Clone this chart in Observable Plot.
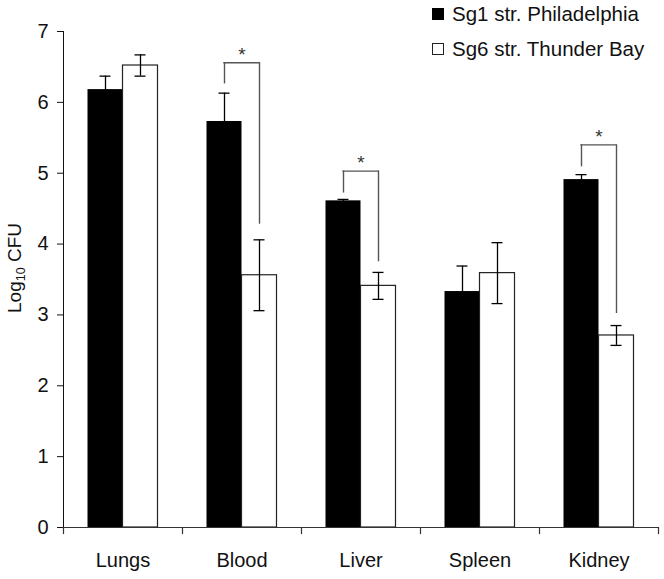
<!DOCTYPE html>
<html>
<head>
<meta charset="utf-8">
<script src="https://cdn.jsdelivr.net/npm/d3@7"></script>
<script src="https://cdn.jsdelivr.net/npm/@observablehq/plot@0.6"></script>
<style>
  html, body { margin: 0; padding: 0; background: #fff; }
  #wrap { position: relative; width: 664px; height: 579px; font-family: "Liberation Sans", Arial, sans-serif; }
  .leg { position: absolute; left: 432px; font-size: 20.5px; color: #111; white-space: nowrap; display: flex; align-items: center; height: 26px; }
  .sw { width: 12px; height: 12px; box-sizing: border-box; margin-right: 8px; }
</style>
</head>
<body>
<div id="wrap"></div>
<script>
// ---- data ----
const categories = ["Lungs", "Blood", "Liver", "Spleen", "Kidney"];
const seriesNames = ["Sg1 str. Philadelphia", "Sg6 str. Thunder Bay"];
const sg1Mean = [6.18, 5.73, 4.61, 3.33, 4.91];
const sg1Err  = [0.19, 0.40, 0.02, 0.36, 0.07];
const sg6Mean = [6.52, 3.56, 3.41, 3.59, 2.71];
const sg6Err  = [0.15, 0.50, 0.19, 0.43, 0.14];
const yTicks = [0, 1, 2, 3, 4, 5, 6, 7];
// significance brackets
const sigCategories = ["Blood", "Liver", "Kidney"];
const bracketTop = [6.56, 5.03, 5.40];
const bracketLeftEnd = [6.26, 4.72, 5.09];
const bracketRightEnd = [4.28, 3.75, 3.02];
const sigLabel = ["*", "*", "*"];

// ---- layout ----
const W = 664, H = 579;
const mL = 63, mR = 6, mT = 31, mB = 52;
const bandW = (W - mL - mR) / categories.length;
const barW = 35;
const capHalf = 5.5;

const sg1 = categories.map((c, i) => ({cat: c, mean: sg1Mean[i], err: sg1Err[i]}));
const sg6 = categories.map((c, i) => ({cat: c, mean: sg6Mean[i], err: sg6Err[i]}));
const sig = sigCategories.map((c, i) => ({cat: c, top: bracketTop[i], l: bracketLeftEnd[i], r: bracketRightEnd[i], label: sigLabel[i]}));

const axisColor = "#333";
const brColor = "#555";

const plot = Plot.plot({
  width: W, height: H,
  marginLeft: mL, marginRight: mR, marginTop: mT, marginBottom: mB,
  style: {fontFamily: "Liberation Sans, Arial, sans-serif", fontSize: "20px", color: "#111", background: "#fff"},
  x: {domain: categories, padding: 0, tickSize: 0, tickPadding: 25, label: null, line: false},
  y: {domain: [0, 7], ticks: yTicks, tickSize: 6, tickPadding: 9, label: null, line: true, tickFormat: d3.format("d")},
  marks: [
    // bars
    Plot.barY(sg1, {x: "cat", y: "mean", fill: "#000", insetLeft: bandW / 2 - barW, insetRight: bandW / 2}),
    Plot.barY(sg6, {x: "cat", y: "mean", fill: "#fff", stroke: "#222", strokeWidth: 1.2, insetLeft: bandW / 2, insetRight: bandW / 2 - barW}),
    // error bars
    Plot.ruleX(sg1, {x: "cat", dx: -barW / 2, y1: d => d.mean - d.err, y2: d => d.mean + d.err, stroke: "#000", strokeWidth: 1.3}),
    Plot.tickY(sg1, {x: "cat", y: d => d.mean + d.err, stroke: "#000", strokeWidth: 1.3, insetLeft: bandW / 2 - barW / 2 - capHalf, insetRight: bandW / 2 + barW / 2 - capHalf}),
    Plot.ruleX(sg6, {x: "cat", dx: barW / 2, y1: d => d.mean - d.err, y2: d => d.mean + d.err, stroke: "#000", strokeWidth: 1.3}),
    Plot.tickY(sg6, {x: "cat", y: d => d.mean + d.err, stroke: "#000", strokeWidth: 1.3, insetLeft: bandW / 2 + barW / 2 - capHalf, insetRight: bandW / 2 - barW / 2 - capHalf}),
    Plot.tickY(sg6, {x: "cat", y: d => d.mean - d.err, stroke: "#000", strokeWidth: 1.3, insetLeft: bandW / 2 + barW / 2 - capHalf, insetRight: bandW / 2 - barW / 2 - capHalf}),
    // significance brackets
    Plot.ruleX(sig, {x: "cat", dx: -barW / 2, y1: "l", y2: "top", stroke: brColor, strokeWidth: 1.4}),
    Plot.ruleX(sig, {x: "cat", dx: barW / 2, y1: "r", y2: "top", stroke: brColor, strokeWidth: 1.4}),
    Plot.tickY(sig, {x: "cat", y: "top", stroke: brColor, strokeWidth: 1.4, insetLeft: bandW / 2 - barW / 2 - 0.7, insetRight: bandW / 2 - barW / 2 - 0.7}),
    Plot.text(sig, {x: "cat", y: "top", text: "label", dy: -8, fontSize: 19, fill: "#333"}),
    // x axis line and band-edge ticks
    Plot.ruleY([0], {stroke: axisColor, strokeWidth: 1.2}),
    Plot.ruleX(categories, {x: d => d, dx: -bandW / 2, y1: 0, y2: -0.1, stroke: axisColor, strokeWidth: 1.2}),
    Plot.ruleX(categories.slice(-1), {x: d => d, dx: bandW / 2, y1: 0, y2: -0.1, stroke: axisColor, strokeWidth: 1.2})
  ]
});

// y-axis title with subscript
const svg = d3.select(plot);
const t = svg.append("text")
  .attr("transform", "translate(21,268) rotate(-90)")
  .attr("text-anchor", "middle")
  .attr("font-size", 19)
  .attr("fill", "#111");
t.append("tspan").text("Log");
t.append("tspan").attr("font-size", 12.5).attr("dy", "0.35em").text("10");
t.append("tspan").attr("dy", "-0.25em").text(" CFU");

const wrap = document.getElementById("wrap");
wrap.appendChild(plot);

// legend
const legTops = [1, 36];
const legStyles = [{bg: "#000", border: "1.2px solid #000"}, {bg: "#fff", border: "1.2px solid #222"}];
seriesNames.forEach((name, i) => {
  const row = document.createElement("div");
  row.className = "leg";
  row.style.top = legTops[i] + "px";
  const sw = document.createElement("div");
  sw.className = "sw";
  sw.style.background = legStyles[i].bg;
  sw.style.border = legStyles[i].border;
  row.appendChild(sw);
  const span = document.createElement("span");
  span.textContent = name;
  row.appendChild(span);
  wrap.appendChild(row);
});
plot.style.position = "absolute";
plot.style.left = "0";
plot.style.top = "0";
</script>
</body>
</html>
